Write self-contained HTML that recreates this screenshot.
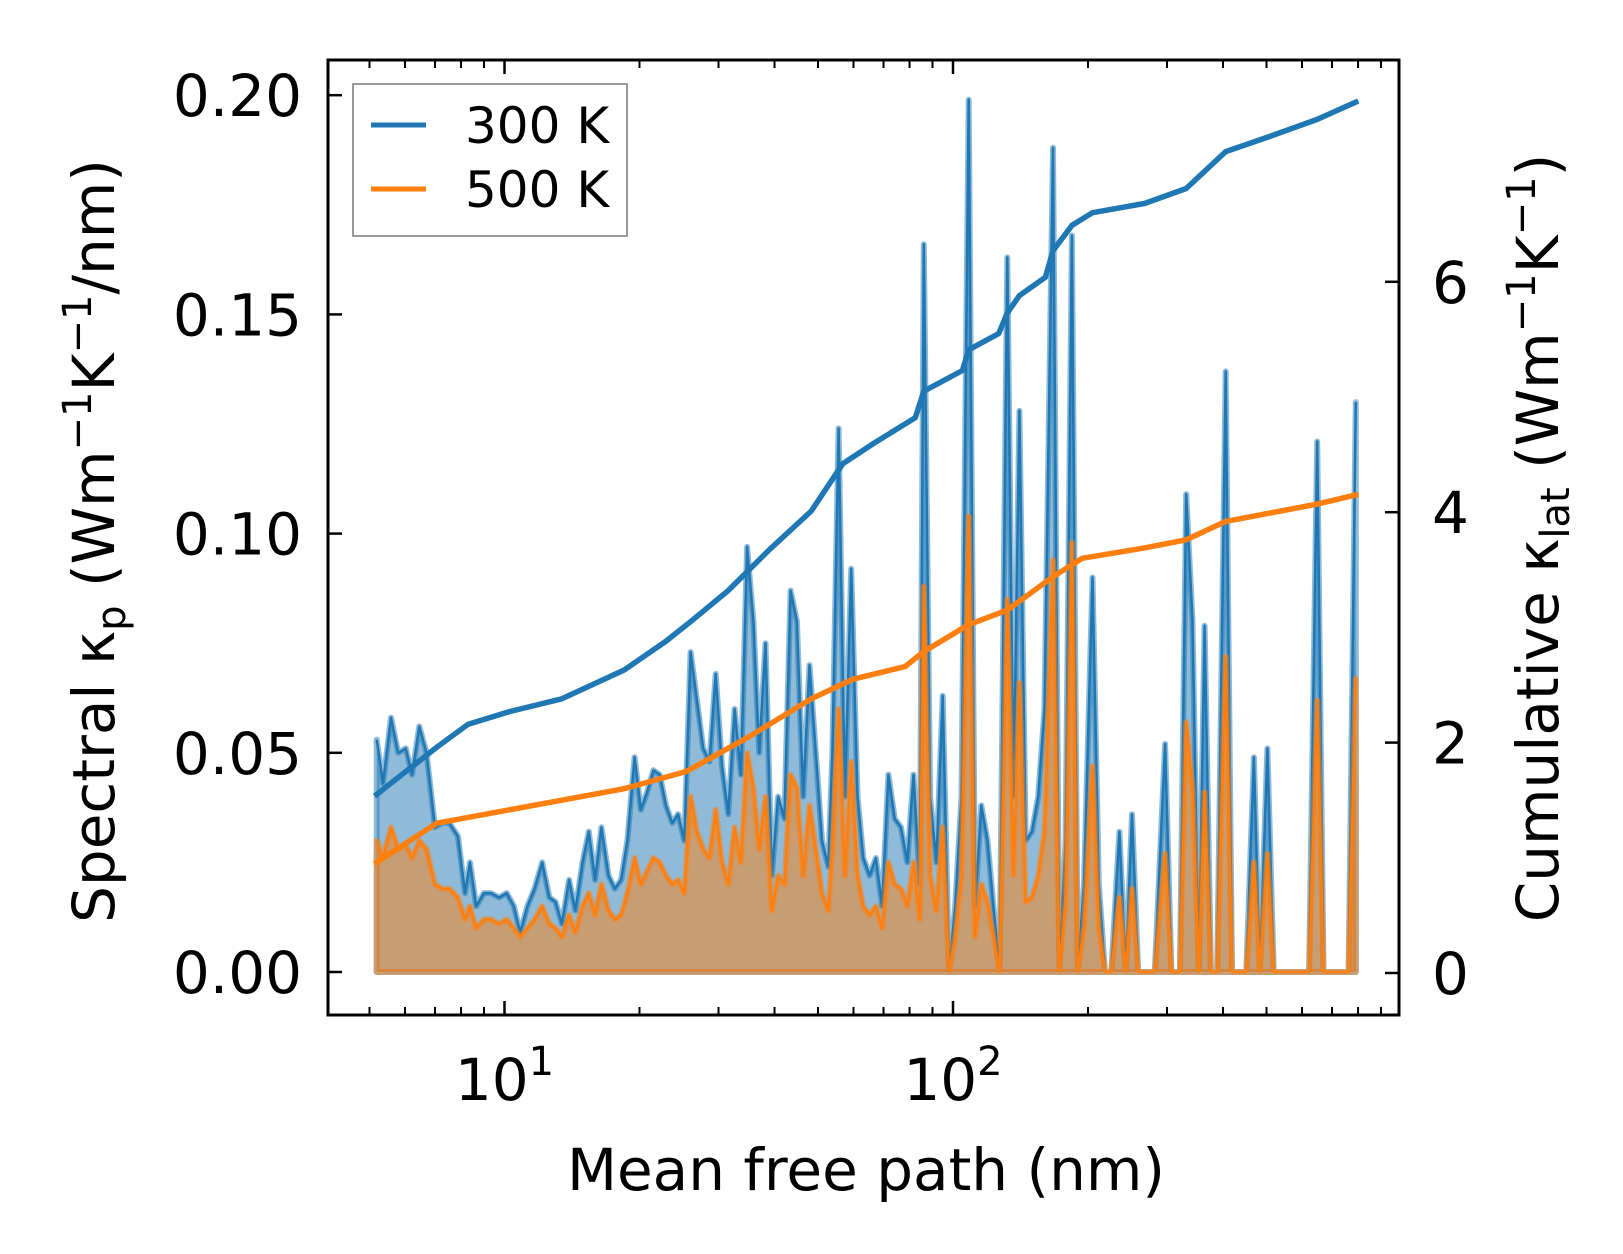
<!DOCTYPE html>
<html><head><meta charset="utf-8"><style>
html,body{margin:0;padding:0;background:#fff}
svg{display:block;font-family:"DejaVu Sans","Liberation Sans",sans-serif}
</style></head><body>
<svg id="chart" width="1623" height="1254" viewBox="0 0 1623 1254" xmlns="http://www.w3.org/2000/svg">
<rect width="1623" height="1254" fill="#fff"/>
<g id="plot"></g>
<g id="axes"></g>
</svg>
<script>
const logMfp = [0.715,0.729,0.747,0.763,0.780,0.794,0.810,0.826,0.845,0.861,0.877,0.896,0.912,0.923,0.937,0.954,0.970,0.988,1.005,1.021,1.035,1.051,1.067,1.084,1.100,1.114,1.128,1.144,1.158,1.174,1.188,1.202,1.216,1.232,1.246,1.260,1.274,1.290,1.304,1.318,1.332,1.346,1.360,1.374,1.387,1.401,1.415,1.429,1.443,1.457,1.471,1.485,1.499,1.513,1.527,1.541,1.555,1.568,1.582,1.596,1.610,1.624,1.638,1.652,1.666,1.680,1.694,1.708,1.722,1.731,1.745,1.759,1.773,1.787,1.800,1.814,1.828,1.842,1.856,1.870,1.884,1.898,1.912,1.926,1.935,1.949,1.963,1.977,1.991,2.005,2.019,2.035,2.049,2.063,2.077,2.090,2.104,2.121,2.135,2.148,2.162,2.176,2.190,2.204,2.223,2.237,2.251,2.265,2.278,2.292,2.311,2.325,2.339,2.353,2.371,2.385,2.399,2.413,2.427,2.450,2.473,2.487,2.506,2.520,2.534,2.548,2.561,2.575,2.589,2.608,2.622,2.636,2.654,2.671,2.684,2.701,2.715,2.729,2.752,2.775,2.794,2.812,2.826,2.845,2.868,2.882,2.898];
const spec300 = [0.053,0.043,0.058,0.050,0.051,0.045,0.056,0.050,0.033,0.034,0.034,0.031,0.018,0.025,0.015,0.018,0.018,0.017,0.018,0.015,0.009,0.015,0.019,0.025,0.017,0.016,0.011,0.021,0.014,0.025,0.032,0.021,0.033,0.022,0.019,0.021,0.030,0.049,0.037,0.041,0.046,0.045,0.038,0.034,0.036,0.030,0.073,0.062,0.051,0.048,0.068,0.047,0.036,0.060,0.045,0.097,0.080,0.050,0.075,0.022,0.040,0.035,0.087,0.080,0.040,0.070,0.050,0.030,0.024,0.050,0.124,0.040,0.092,0.040,0.026,0.022,0.026,0.015,0.045,0.035,0.033,0.025,0.045,0.020,0.166,0.040,0.025,0.063,0.000,0.015,0.040,0.199,0.015,0.038,0.030,0.015,0.000,0.163,0.040,0.128,0.030,0.032,0.040,0.060,0.188,0.000,0.030,0.168,0.000,0.020,0.090,0.020,0.000,0.000,0.032,0.000,0.036,0.000,0.000,0.000,0.052,0.000,0.000,0.109,0.080,0.000,0.079,0.000,0.000,0.137,0.000,0.000,0.000,0.049,0.000,0.051,0.000,0.000,0.000,0.000,0.000,0.121,0.000,0.000,0.000,0.000,0.130];
const spec500 = [0.030,0.026,0.033,0.028,0.029,0.026,0.030,0.028,0.020,0.019,0.019,0.017,0.012,0.015,0.010,0.012,0.012,0.011,0.012,0.010,0.008,0.010,0.012,0.015,0.011,0.010,0.008,0.013,0.009,0.015,0.018,0.013,0.020,0.014,0.012,0.013,0.018,0.026,0.020,0.023,0.026,0.025,0.022,0.020,0.021,0.018,0.040,0.032,0.028,0.026,0.037,0.025,0.020,0.033,0.025,0.050,0.042,0.028,0.040,0.014,0.022,0.020,0.045,0.042,0.022,0.038,0.028,0.018,0.014,0.028,0.060,0.022,0.048,0.022,0.015,0.013,0.015,0.010,0.025,0.020,0.019,0.015,0.025,0.012,0.088,0.022,0.014,0.033,0.000,0.008,0.022,0.104,0.008,0.020,0.016,0.008,0.000,0.085,0.022,0.066,0.016,0.017,0.022,0.032,0.094,0.000,0.016,0.098,0.000,0.010,0.047,0.010,0.000,0.000,0.017,0.000,0.019,0.000,0.000,0.000,0.027,0.000,0.000,0.057,0.042,0.000,0.041,0.000,0.000,0.072,0.000,0.000,0.000,0.025,0.000,0.027,0.000,0.000,0.000,0.000,0.000,0.062,0.000,0.000,0.000,0.000,0.067];
const cumLog300 = [0.715,0.849,0.919,1.012,1.128,1.267,1.360,1.418,1.499,1.592,1.684,1.754,1.824,1.916,1.935,2.021,2.035,2.102,2.121,2.148,2.206,2.223,2.265,2.311,2.427,2.520,2.608,2.705,2.812,2.898];
const cum300 = [1.55,1.96,2.16,2.27,2.38,2.63,2.88,3.06,3.32,3.68,4.01,4.42,4.6,4.82,5.05,5.23,5.41,5.55,5.73,5.88,6.04,6.27,6.49,6.6,6.68,6.81,7.13,7.26,7.41,7.56];
const cumLog500 = [0.715,0.849,0.988,1.128,1.267,1.406,1.545,1.684,1.777,1.893,1.935,2.033,2.121,2.223,2.288,2.427,2.520,2.608,2.812,2.898];
const cum500 = [0.96,1.30,1.40,1.5,1.6,1.75,2.05,2.38,2.55,2.66,2.79,3.02,3.15,3.44,3.6,3.69,3.76,3.92,4.07,4.15];
const leftTicks = [0, 0.05, 0.10, 0.15, 0.20];
const leftTickLabels = ["0.00","0.05","0.10","0.15","0.20"];
const rightTicks = [0, 2, 4, 6];
const rightTickLabels = ["0","2","4","6"];
const xMajorLogs = [1, 2];
const xMajorExps = ["1","2"];

const L=328,R=1399,T=60,B=1015;
const xs = lg => 504.5 + (lg-1)*448.5;
const yL = v => 972 - v*4384;
const yR = v => 973 - v*115.2;
const NS="http://www.w3.org/2000/svg";
const plot=document.getElementById('plot'), axes=document.getElementById('axes');
function mk(tag,attrs,parent){const e=document.createElementNS(NS,tag);for(const k in attrs)e.setAttribute(k,attrs[k]);parent.appendChild(e);return e;}

function area(vals,color,name){
  const pts=vals.map((v,i)=>xs(logMfp[i]).toFixed(1)+','+yL(v).toFixed(1));
  const x0=xs(logMfp[0]).toFixed(1), x1=xs(logMfp[logMfp.length-1]).toFixed(1), y0=yL(0).toFixed(1);
  const poly=mk('polygon',{points:x0+','+y0+' '+pts.join(' ')+' '+x1+','+y0,fill:'rgba('+color+',0.5)',stroke:'rgba('+color+',0.5)','stroke-width':6,'stroke-linejoin':'round'},plot);
  
  
  const ln=mk('polyline',{points:pts.join(' '),fill:'none',stroke:'rgb('+color+')','stroke-width':2.5,'stroke-linejoin':'round'},plot);
  
  
}
area(spec300,'31,119,180','spectral-300k');
area(spec500,'255,127,14','spectral-500k');
function cum(lgs,vals,color,name){
  const pts=vals.map((v,i)=>xs(lgs[i]).toFixed(1)+','+yR(v).toFixed(1));
  const ln=mk('polyline',{points:pts.join(' '),fill:'none',stroke:color,'stroke-width':5.5,'stroke-linejoin':'round','stroke-linecap':'square'},plot);
  
  
}
cum(cumLog300,cum300,'#1f77b4','cumulative-300k');
cum(cumLog500,cum500,'#ff7f0e','cumulative-500k');

const fr=mk('rect',{x:L,y:T,width:R-L,height:B-T,fill:'none',stroke:'#000','stroke-width':3},axes);


leftTicks.forEach((v,i)=>{
  const y=yL(v);
  const t=mk('line',{x1:L,x2:L+14,y1:y,y2:y,stroke:'#000','stroke-width':2.5},axes);
  
  
  const tx=mk('text',{x:302,y:y+21,'text-anchor':'end','font-size':58,fill:'#000'},axes);
  tx.textContent=leftTickLabels[i];
  
  
});
rightTicks.forEach((v,i)=>{
  const y=yR(v);
  const t=mk('line',{x1:R-14,x2:R,y1:y,y2:y,stroke:'#000','stroke-width':2.5},axes);
  
  
  const tx=mk('text',{x:1432,y:y+21,'text-anchor':'start','font-size':58,fill:'#000'},axes);
  tx.textContent=rightTickLabels[i];
  
  
});
for(let d=0; d<=2; d++){
  for(let m=1;m<=9;m++){
    const lg=d+Math.log10(m); const x=xs(lg);
    if(x<L+1||x>R-1) continue;
    const len=m===1?14:8;
    [[B,B-len],[T,T+len]].forEach(p=>{
      const t=mk('line',{x1:x,x2:x,y1:p[0],y2:p[1],stroke:'#000','stroke-width':m===1?2.5:2},axes);
      
      
    });
  }
}
xMajorLogs.forEach((lg,i)=>{
  const tx=mk('text',{x:xs(lg),y:1100,'text-anchor':'middle','font-size':58,fill:'#000'},axes);
  tx.innerHTML='10<tspan font-size="40" dy="-25">'+xMajorExps[i]+'</tspan>';
  
  
});
</script>
<svg style="position:absolute;left:0;top:0" width="1623" height="1254">
<text x="866" y="1190" text-anchor="middle" font-size="58" font-family="DejaVu Sans, sans-serif">Mean free path (nm)</text>
<text transform="translate(114,541) rotate(-90)" text-anchor="middle" font-size="58" font-family="DejaVu Sans, sans-serif">Spectral κ<tspan font-size="40" dy="11">p</tspan><tspan dy="-11"> (Wm</tspan><tspan font-size="40" dy="-23">−1</tspan><tspan dy="23">K</tspan><tspan font-size="40" dy="-23">−1</tspan><tspan dy="23">/nm)</tspan></text>
<text transform="translate(1558,538) rotate(-90)" text-anchor="middle" font-size="58" font-family="DejaVu Sans, sans-serif">Cumulative κ<tspan font-size="40" dy="11">lat</tspan><tspan dy="-11"> (Wm</tspan><tspan font-size="40" dy="-23">−1</tspan><tspan dy="23">K</tspan><tspan font-size="40" dy="-23">−1</tspan><tspan dy="23">)</tspan></text>
<g>
<rect x="353" y="84" width="274" height="152" fill="#fff" fill-opacity="0.8" stroke="#999" stroke-width="2"/>
<line x1="371" x2="426" y1="125" y2="125" stroke="#1f77b4" stroke-width="5"/>
<text x="465" y="143" font-size="50" font-family="DejaVu Sans, sans-serif">300 K</text>
<line x1="371" x2="426" y1="189" y2="189" stroke="#ff7f0e" stroke-width="5"/>
<text x="465" y="207" font-size="50" font-family="DejaVu Sans, sans-serif">500 K</text>
</g>
</svg>
</body></html>
